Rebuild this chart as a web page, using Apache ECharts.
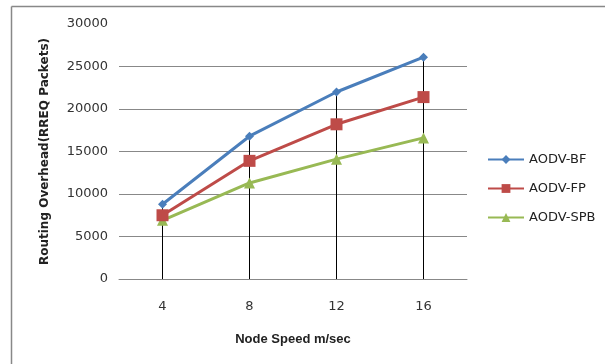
<!DOCTYPE html>
<html><head><meta charset="utf-8">
<script src="https://cdn.jsdelivr.net/npm/echarts@6/dist/echarts.min.js"></script>
<style>html,body{margin:0;padding:0;background:#fff}#c{width:605px;height:364px}</style>
</head><body><div id="c"></div>
<script>
const categories = ['4', '8', '12', '16'];
const aodvBF = [8800, 16800, 22000, 26100];
const aodvFP = [7500, 13900, 18200, 21400];
const aodvSPB = [6900, 11300, 14100, 16600];
const yTicks = [0, 5000, 10000, 15000, 20000, 25000, 30000];

const chart = echarts.init(document.getElementById('c'));
const font = 'DejaVu Sans';
chart.setOption({
  animation: false,
  backgroundColor: '#fff',
  textStyle: { fontFamily: font },
  graphic: [
    { type: 'line', shape: { x1: 11.5, y1: 6.5, x2: 605, y2: 6.5 }, style: { stroke: '#888', lineWidth: 1.5 } },
    { type: 'line', shape: { x1: 11.5, y1: 6.5, x2: 11.5, y2: 364 }, style: { stroke: '#888', lineWidth: 1.5 } }
  ],
  grid: { left: 119, right: 138, top: 24, bottom: 85 },
  legend: {
    orient: 'vertical', left: 482, top: 148, itemGap: 16, itemWidth: 36, itemHeight: 11,
    textStyle: { fontFamily: font, fontSize: 13, color: '#222' },
    data: ['AODV-BF', 'AODV-FP', 'AODV-SPB']
  },
  xAxis: {
    type: 'category', data: categories, boundaryGap: true,
    name: 'Node Speed m/sec', nameLocation: 'middle', nameGap: 54,
    nameTextStyle: { fontFamily: 'Liberation Sans', fontWeight: 'bold', fontSize: 13, color: '#222' },
    axisLine: { lineStyle: { color: '#888', width: 1 } },
    axisTick: { show: false },
    axisLabel: { fontFamily: font, fontSize: 13, color: '#333', margin: 21 }
  },
  yAxis: {
    type: 'value', min: yTicks[0], max: yTicks[yTicks.length - 1], interval: 5000,
    name: 'Routing Overhead(RREQ Packets)', nameLocation: 'middle', nameGap: 68,
    nameTextStyle: { fontFamily: font, fontWeight: 'bold', fontSize: 12, color: '#222' },
    axisLine: { show: false }, axisTick: { show: false },
    splitLine: { showMaxLine: false, lineStyle: { color: '#888', width: 1 } },
    axisLabel: { fontFamily: font, fontSize: 13, color: '#333', margin: 11, formatter: v => String(v) }
  },
  series: [
    { name: 'drop', type: 'bar', data: aodvBF, barWidth: 1, barGap: '-100%',
      itemStyle: { color: '#000' }, z: 1, silent: true },
    { name: 'AODV-BF', type: 'line', data: aodvBF, symbol: 'diamond', symbolSize: 9,
      lineStyle: { color: '#4a7ebb', width: 3 }, itemStyle: { color: '#4a7ebb' }, z: 4 },
    { name: 'AODV-FP', type: 'line', data: aodvFP, symbol: 'rect', symbolSize: 12,
      lineStyle: { color: '#be4b48', width: 3 }, itemStyle: { color: '#be4b48' }, z: 3 },
    { name: 'AODV-SPB', type: 'line', data: aodvSPB, symbol: 'triangle', symbolSize: 11,
      lineStyle: { color: '#98b954', width: 3 }, itemStyle: { color: '#98b954' }, z: 2 }
  ]
});
</script></body></html>
